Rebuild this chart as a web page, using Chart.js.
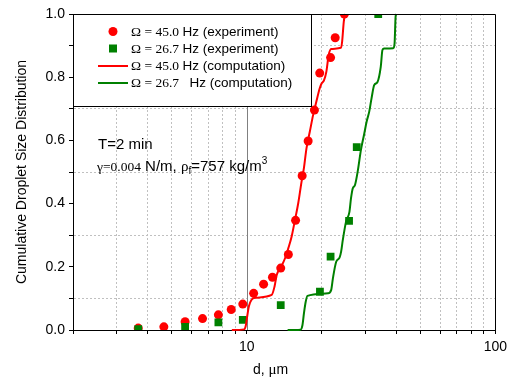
<!DOCTYPE html>
<html>
<head>
<meta charset="utf-8">
<script src="https://cdn.jsdelivr.net/npm/chart.js@4"></script>
<style>
  html, body { margin: 0; padding: 0; background: #fff; }
  #wrap { width: 512px; height: 380px; }
</style>
</head>
<body>
<div id="wrap"><canvas id="chartCdf" width="512" height="380"></canvas></div>
<script>
/* dados */
const redExpD = [3.66, 4.64, 5.65, 6.64, 7.69, 8.66, 9.64, 10.66, 11.69, 12.69, 13.70, 14.70, 15.72, 16.71, 17.66, 18.72, 19.66, 21.74, 22.69, 24.7];
const redExpC = [0.006, 0.010, 0.026, 0.036, 0.048, 0.065, 0.082, 0.116, 0.145, 0.167, 0.196, 0.239, 0.347, 0.488, 0.598, 0.696, 0.813, 0.862, 0.925, 1.0];

const greenExpD = [3.66, 5.65, 7.69, 9.64, 13.70, 19.7, 21.74, 25.8, 27.7, 33.8];
const greenExpC = [0.003, 0.010, 0.024, 0.032, 0.079, 0.121, 0.232, 0.345, 0.579, 1.0];

const redCompD = [8.71, 9.75, 9.9, 10.05, 10.2, 10.44, 10.83, 12.6, 12.93, 13.2, 13.75, 14.26, 14.7, 15.15, 15.63, 16.11, 16.61, 16.98, 17.39, 17.94, 18.49, 19.05, 19.66, 20.0, 20.45, 20.9, 21.36, 21.87, 23.9, 24.19, 24.57, 24.86];
const redCompC = [0, 0.002, 0.012, 0.045, 0.075, 0.095, 0.102, 0.111, 0.137, 0.174, 0.200, 0.227, 0.259, 0.295, 0.348, 0.401, 0.469, 0.512, 0.575, 0.628, 0.680, 0.722, 0.765, 0.780, 0.790, 0.817, 0.870, 0.889, 0.893, 0.912, 0.976, 1.0];

const greenCompD = [14.6, 16.45, 16.75, 17.0, 17.25, 17.55, 21.22, 21.87, 22.22, 22.9, 23.62, 23.97, 24.35, 25.09, 25.89, 26.27, 26.69, 27.26, 27.94, 28.8, 29.71, 30.35, 31.1, 31.77, 32.56, 33.57, 34.6, 35.15, 35.7, 38.87, 39.33, 39.7, 39.96];
const greenCompC = [0, 0.001, 0.015, 0.055, 0.088, 0.108, 0.116, 0.127, 0.164, 0.216, 0.229, 0.248, 0.285, 0.343, 0.374, 0.417, 0.448, 0.459, 0.501, 0.570, 0.622, 0.659, 0.691, 0.733, 0.775, 0.785, 0.833, 0.886, 0.891, 0.892, 0.907, 0.991, 1.0];

const xTicks = [2, 3, 4, 5, 6, 7, 8, 9, 10, 20, 30, 40, 50, 60, 70, 80, 90, 100];
const yTicks = [0, 0.1, 0.2, 0.3, 0.4, 0.5, 0.6, 0.7, 0.8, 0.9, 1.0];

const SANS = "'Liberation Sans', Arial, sans-serif";
const SERIF = "'Liberation Serif', 'Times New Roman', serif";
const RED = '#ff0000';
const GREEN = '#008000';
const GRID = '#c0c0c0';
const NONE = 'rgba(0,0,0,0)';

function pts(xs, ys) {
    return xs.map((x, i) => ({ x: x, y: ys[i] }));
}

// escreve varios trechos com fontes diferentes numa linha
function drawRuns(ctx, x, y, runs) {
    ctx.textBaseline = 'alphabetic';
    ctx.textAlign = 'left';
    runs.forEach(r => {
        ctx.font = r.font;
        ctx.fillText(r.t, x, y + (r.dy || 0));
        x += ctx.measureText(r.t).width;
    });
}

const extras = {
    id: 'extras',
    beforeDatasetsDraw(chart) {
        const ctx = chart.ctx;
        const a = chart.chartArea;
        const x10 = Math.round(chart.scales.x.getPixelForValue(10)) + 0.5;
        ctx.save();
        ctx.strokeStyle = '#808080';
        ctx.lineWidth = 1;
        ctx.beginPath();
        ctx.moveTo(x10, a.top);
        ctx.lineTo(x10, a.bottom);
        ctx.stroke();
        ctx.restore();
    },
    afterDatasetsDraw(chart) {
        const ctx = chart.ctx;
        const a = chart.chartArea;
        ctx.save();
        // caixa da legenda
        ctx.fillStyle = '#fff';
        ctx.fillRect(a.left, a.top, 238, 92);
        ctx.strokeStyle = '#000';
        ctx.lineWidth = 1;
        ctx.strokeRect(a.left + 0.5, a.top + 0.5, 238, 92);

        const mx = 113, tx = 131;
        const rows = [36, 53, 70, 87];
        ctx.fillStyle = RED;
        ctx.beginPath();
        ctx.arc(mx, rows[0] - 4.5, 4.5, 0, Math.PI * 2);
        ctx.fill();
        ctx.fillStyle = GREEN;
        ctx.fillRect(mx - 4, rows[1] - 8.5, 8, 8);
        ctx.lineWidth = 2;
        ctx.strokeStyle = RED;
        ctx.beginPath(); ctx.moveTo(98, rows[2] - 4); ctx.lineTo(128, rows[2] - 4); ctx.stroke();
        ctx.strokeStyle = GREEN;
        ctx.beginPath(); ctx.moveTo(98, rows[3] - 4); ctx.lineTo(128, rows[3] - 4); ctx.stroke();

        ctx.fillStyle = '#000';
        const f1 = '13.5px ' + SERIF, f2 = '13.5px ' + SANS;
        drawRuns(ctx, tx, rows[0], [{ t: 'Ω = 45.0 ', font: f1 }, { t: 'Hz (experiment)', font: f2 }]);
        drawRuns(ctx, tx, rows[1], [{ t: 'Ω = 26.7 ', font: f1 }, { t: 'Hz (experiment)', font: f2 }]);
        drawRuns(ctx, tx, rows[2], [{ t: 'Ω = 45.0 ', font: f1 }, { t: 'Hz (computation)', font: f2 }]);
        drawRuns(ctx, tx, rows[3], [{ t: 'Ω = 26.7  ', font: f1 }, { t: ' Hz (computation)', font: f2 }]);

        // anotacoes
        drawRuns(ctx, 98, 149, [{ t: 'T=2 min', font: '15px ' + SANS }]);
        drawRuns(ctx, 97, 171, [
            { t: 'γ=0.004', font: '13.5px ' + SERIF },
            { t: ' N/m, ', font: '15px ' + SANS },
            { t: 'ρ', font: '15px ' + SERIF },
            { t: 'f', font: '10px ' + SANS, dy: 3 },
            { t: '=757 kg/m', font: '15px ' + SANS },
            { t: '3', font: '10px ' + SANS, dy: -7 }
        ]);

        // titulo do eixo x
        drawRuns(ctx, 253, 374, [
            { t: 'd, ', font: '14px ' + SANS },
            { t: 'μ', font: '15px ' + SERIF },
            { t: 'm', font: '14px ' + SANS }
        ]);
        ctx.restore();
    },
    afterDraw(chart) {
        const ctx = chart.ctx;
        const a = chart.chartArea;
        ctx.save();
        ctx.strokeStyle = '#000';
        ctx.lineWidth = 1;
        ctx.beginPath();
        ctx.moveTo(a.left, Math.round(a.top) + 0.5);
        ctx.lineTo(Math.round(a.right) + 0.5, Math.round(a.top) + 0.5);
        ctx.lineTo(Math.round(a.right) + 0.5, a.bottom);
        ctx.stroke();
        ctx.restore();
    }
};

const ctx = document.getElementById('chartCdf');
new Chart(ctx, {
    type: 'scatter',
    data: {
        datasets: [{
            label: 'Ω = 45.0 Hz (experiment)',
            data: pts(redExpD, redExpC),
            backgroundColor: RED,
            borderColor: RED,
            pointRadius: 4.5,
            pointBorderWidth: 0,
            order: 3,
            clip: 0
        }, {
            label: 'Ω = 26.7 Hz (experiment)',
            data: pts(greenExpD, greenExpC),
            backgroundColor: GREEN,
            borderColor: GREEN,
            pointStyle: 'rect',
            pointRadius: 5.5,
            pointBorderWidth: 0,
            order: 2,
            clip: 0
        }, {
            label: 'Ω = 45.0 Hz (computation)',
            type: 'line',
            data: pts(redCompD, redCompC),
            borderColor: RED,
            borderWidth: 2,
            pointRadius: 0,
            showLine: true,
            fill: false,
            cubicInterpolationMode: 'monotone',
            order: 1,
            clip: 1
        }, {
            label: 'Ω = 26.7 Hz (computation)',
            type: 'line',
            data: pts(greenCompD, greenCompC),
            borderColor: GREEN,
            borderWidth: 2,
            pointRadius: 0,
            showLine: true,
            fill: false,
            cubicInterpolationMode: 'monotone',
            order: 0,
            clip: 1
        }]
    },
    plugins: [extras],
    options: {
        responsive: false,
        animation: false,
        layout: { padding: { top: 14, right: 13, left: 0, bottom: 0 } },
        plugins: {
            legend: { display: false },
            tooltip: { enabled: false }
        },
        scales: {
            x: {
                type: 'logarithmic',
                min: 2,
                max: 100,
                afterBuildTicks: (scale) => { scale.ticks = xTicks.map(v => ({ value: v })); },
                afterFit: (scale) => { scale.height = 50; },
                ticks: {
                    autoSkip: false,
                    maxRotation: 0,
                    padding: 5,
                    color: '#000',
                    font: { size: 14, family: SANS },
                    callback: (v) => (v === 10 || v === 100) ? String(v) : ''
                },
                grid: {
                    color: xTicks.map(v => [2, 10, 100].includes(v) ? NONE : GRID),
                    lineWidth: 1,
                    tickColor: '#000',
                    tickLength: 4
                },
                border: { display: true, color: '#000', width: 1, dash: [2, 2] }
            },
            y: {
                min: 0,
                max: 1,
                afterBuildTicks: (scale) => { scale.ticks = yTicks.map(v => ({ value: v })); },
                afterFit: (scale) => { scale.width = 73; },
                ticks: {
                    padding: 4,
                    color: '#000',
                    font: { size: 14, family: SANS },
                    callback: (v) => Math.round(v * 10) % 2 === 0 ? v.toFixed(1) : ''
                },
                grid: {
                    color: yTicks.map(v => Math.round(v * 10) % 2 === 1 ? GRID : NONE),
                    lineWidth: 1,
                    tickColor: '#000',
                    tickLength: 4
                },
                border: { display: true, color: '#000', width: 1, dash: [2, 2] },
                title: {
                    display: true,
                    text: 'Cumulative Droplet Size Distribution',
                    color: '#000',
                    font: { size: 14, family: SANS },
                    padding: { top: 14, bottom: 0 }
                }
            }
        }
    }
});
</script>
</body>
</html>
